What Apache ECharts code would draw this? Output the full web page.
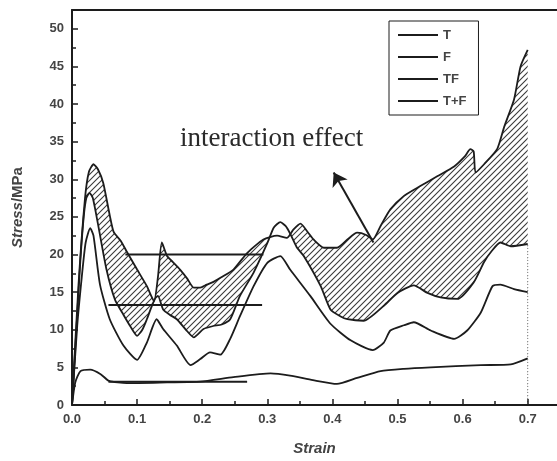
<!DOCTYPE html>
<html>
<head>
<meta charset="utf-8">
<script src="https://cdn.jsdelivr.net/npm/echarts@6/dist/echarts.min.js"></script>
<style>
  html, body { margin: 0; padding: 0; background: #fff; }
  #chart { width: 557px; height: 461px; }
</style>
</head>
<body>
<div id="chart"></div>
<script>
// curves (strain, stress in MPa)
const strainT = [0, 0.008, 0.015, 0.021, 0.028, 0.033, 0.043, 0.058, 0.079, 0.1, 0.115, 0.13, 0.14, 0.161, 0.182, 0.197, 0.212, 0.228, 0.243, 0.258, 0.279, 0.3, 0.32, 0.335, 0.366, 0.397, 0.428, 0.462, 0.479, 0.489, 0.51, 0.525, 0.551, 0.587, 0.607, 0.628, 0.646, 0.658, 0.679, 0.7];
const stressT = [0, 10.5, 17, 21.6, 23.5, 22.5, 16, 11.4, 7.9, 6.0, 8.3, 11.4, 10.1, 7.9, 5.3, 6.1, 7.0, 6.7, 8.8, 11.8, 15.8, 18.9, 19.8, 18, 14.5, 10.8, 8.6, 7.3, 8.3, 9.9, 10.6, 11.0, 9.9, 8.8, 9.9, 12.3, 15.8, 16, 15.4, 15.0];

const strainF = [0, 0.005, 0.013, 0.028, 0.044, 0.057, 0.084, 0.146, 0.197, 0.248, 0.305, 0.335, 0.37, 0.407, 0.438, 0.474, 0.51, 0.551, 0.628, 0.674, 0.7];
const stressF = [0, 3, 4.5, 4.7, 4.1, 3.2, 2.9, 3.0, 3.1, 3.7, 4.2, 3.9, 3.3, 2.8, 3.6, 4.5, 4.8, 5.0, 5.3, 5.4, 6.2];

const strainTF = [0, 0.01, 0.02, 0.026, 0.033, 0.04, 0.048, 0.058, 0.064, 0.075, 0.084, 0.1, 0.115, 0.126, 0.132, 0.138, 0.146, 0.155, 0.166, 0.177, 0.187, 0.197, 0.207, 0.218, 0.228, 0.248, 0.269, 0.294, 0.315, 0.33, 0.34, 0.351, 0.362, 0.371, 0.387, 0.407, 0.423, 0.438, 0.452, 0.462, 0.474, 0.489, 0.51, 0.535, 0.561, 0.587, 0.603, 0.612, 0.617, 0.62, 0.633, 0.653, 0.664, 0.679, 0.689, 0.7];
const stressTF = [0, 16, 27.5, 31, 32, 31.3, 29.5, 25.2, 23, 21.8, 20.4, 18, 15.8, 13.8, 17, 21.6, 19.8, 19, 18, 16.8, 15.6, 15.6, 16, 16.4, 16.9, 18, 20.2, 22, 22.5, 22.2, 23.3, 24.1, 23, 22, 20.9, 20.9, 22, 22.9, 22.6, 22, 23.8, 26, 27.8, 29.1, 30.4, 31.7, 33, 34, 33.7, 30.9, 32, 34, 37, 40.6, 45, 47.2];

const strainSum = [0, 0.008, 0.013, 0.018, 0.022, 0.027, 0.032, 0.04, 0.053, 0.066, 0.079, 0.09, 0.1, 0.108, 0.115, 0.122, 0.128, 0.132, 0.14, 0.15, 0.161, 0.175, 0.187, 0.202, 0.217, 0.23, 0.243, 0.258, 0.279, 0.3, 0.31, 0.32, 0.328, 0.335, 0.345, 0.356, 0.382, 0.397, 0.412, 0.423, 0.448, 0.479, 0.5, 0.525, 0.546, 0.566, 0.592, 0.617, 0.633, 0.645, 0.658, 0.674, 0.7];
const stressSum = [0, 12, 19.4, 25, 27.5, 28.2, 27.5, 24, 18, 14, 12, 10.4, 9.2, 10, 11.4, 13, 14.2, 14.5, 12.7, 12, 11.4, 10, 9.0, 10.1, 10.5, 10.7, 11.4, 14.5, 17.6, 21.5, 23.6, 24.3, 23.8, 22.8, 21, 19.8, 15.8, 12.7, 11.8, 11.4, 11.2, 13.2, 14.9, 15.9, 14.9, 14.3, 14.1, 16.3, 19, 20.5, 21.6, 21.1, 21.4];

// plateau stress levels: [start strain, end strain, stress]
const plateauTF = [0.082, 0.294, 20];
const plateauSum = [0.056, 0.292, 13.3];
const plateauF = [0.056, 0.269, 3.1];

// annotation arrow: tail and head (strain, stress)
const arrowTail = [0.463, 21.6];
const arrowHead = [0.402, 30.9];

const legendNames = ['T', 'F', 'TF', 'T+F'];

// x ticks (labelled) and half-step minor ticks
const xTicks = [0, 0.1, 0.2, 0.3, 0.4, 0.5, 0.6, 0.7];
const xMinorTicks = [0.05, 0.15, 0.25, 0.35, 0.45, 0.55, 0.65];

const ink = '#1c1c1c';
const textGray = '#444';
const fontFamily = '"Liberation Sans", Arial, sans-serif';
const smoothing = 0.2;

function toPairs(xs, ys) {
  return xs.map((x, i) => [x, ys[i]]);
}

function plateau(p) {
  return [[p[0], p[2]], [p[1], p[2]]];
}

function hatchPattern() {
  const c = document.createElement('canvas');
  c.width = 6;
  c.height = 6;
  const g = c.getContext('2d');
  g.fillStyle = '#fff';
  g.fillRect(0, 0, 6, 6);
  g.strokeStyle = '#3a3a3a';
  g.lineWidth = 1.1;
  g.beginPath();
  g.moveTo(0, 6); g.lineTo(6, 0);
  g.moveTo(-1, 1); g.lineTo(1, -1);
  g.moveTo(5, 7); g.lineTo(7, 5);
  g.stroke();
  return c;
}

function curve(name, data, width, smooth) {
  return {
    name: name,
    type: 'line',
    data: data,
    symbol: 'none',
    smooth: smooth || false,
    z: 3,
    lineStyle: { color: ink, width: width || 1.8 },
    itemStyle: { color: ink },
  };
}

const chart = echarts.init(document.getElementById('chart'), null, { renderer: 'canvas' });

const tfData = toPairs(strainTF, stressTF);
const sumData = toPairs(strainSum, stressSum);

const tfCurve = curve('TF', tfData, 1.8, smoothing);
tfCurve.markLine = {
  silent: true,
  symbol: ['none', 'arrow'],
  symbolSize: 13,
  lineStyle: { color: ink, width: 2, type: 'solid' },
  label: { show: false },
  data: [[{ coord: arrowTail }, { coord: arrowHead }]],
};

const xRange = { type: 'value', min: 0, max: 0.745, z: 5, splitLine: { show: false } };

chart.setOption({
  animation: false,
  backgroundColor: '#fff',
  grid: { left: 72, right: 0, top: 10, bottom: 55 },
  legend: {
    data: legendNames,
    orient: 'vertical',
    left: 389,
    top: 21,
    icon: 'rect',
    itemWidth: 40,
    itemHeight: 2,
    itemGap: 8,
    padding: [7, 12, 7, 9],
    borderColor: ink,
    borderWidth: 1,
    textStyle: { fontFamily: fontFamily, fontSize: 13, fontWeight: 'bold', lineHeight: 14, color: textGray },
  },
  xAxis: [
    Object.assign({}, xRange, {
      interval: 0.1,
      name: 'Strain',
      nameLocation: 'middle',
      nameGap: 36,
      nameTextStyle: { fontFamily: fontFamily, fontSize: 15, fontStyle: 'italic', fontWeight: 'bold', color: textGray },
      axisLine: { lineStyle: { color: ink, width: 2 } },
      axisTick: { inside: true, length: 6, customValues: xTicks, lineStyle: { color: ink, width: 1.5 } },
      axisLabel: {
        fontFamily: fontFamily, fontSize: 13, fontWeight: 'bold', color: textGray, margin: 8,
        customValues: xTicks,
        formatter: v => v.toFixed(1),
      },
    }),
    Object.assign({}, xRange, {
      position: 'top',
      axisLine: { show: true, lineStyle: { color: ink, width: 2 } },
      axisTick: { show: false },
      axisLabel: { show: false },
    }),
    Object.assign({}, xRange, {
      position: 'bottom',
      axisLine: { show: false },
      axisTick: { show: true, inside: true, length: 4, customValues: xMinorTicks, lineStyle: { color: ink, width: 1.5 } },
      axisLabel: { show: false },
    }),
  ],
  yAxis: {
    type: 'value',
    min: 0,
    max: 52.5,
    interval: 5,
    z: 5,
    name: '{it|Stress}/MPa',
    nameLocation: 'middle',
    nameGap: 47,
    nameTextStyle: {
      fontFamily: fontFamily, fontSize: 15, fontWeight: 'bold', color: textGray,
      rich: { it: { fontFamily: fontFamily, fontSize: 15, fontStyle: 'italic', fontWeight: 'bold', color: textGray } },
    },
    axisLine: { show: true, lineStyle: { color: ink, width: 2 } },
    axisTick: { inside: true, length: 6, lineStyle: { color: ink, width: 1.5 } },
    minorTick: { show: true, splitNumber: 2, length: 4, lineStyle: { color: ink, width: 1.5 } },
    axisLabel: { fontFamily: fontFamily, fontSize: 13, fontWeight: 'bold', color: textGray, margin: 8, showMaxLabel: false },
    splitLine: { show: false },
  },
  graphic: [
    {
      type: 'text',
      left: 180,
      top: 125,
      z: 10,
      style: { text: 'interaction effect', font: '27px "Liberation Serif", "Times New Roman", serif', fill: '#2a2a2a' },
    },
  ],
  series: [
    // hatched interaction area: TF filled, then T+F masked in white
    {
      name: 'TF hatch',
      type: 'line',
      data: tfData,
      symbol: 'none',
      smooth: smoothing,
      silent: true,
      z: 1,
      lineStyle: { width: 0, opacity: 0 },
      areaStyle: { color: { image: hatchPattern(), repeat: 'repeat' }, opacity: 1 },
    },
    {
      name: 'T+F mask',
      type: 'line',
      data: sumData,
      symbol: 'none',
      smooth: smoothing,
      silent: true,
      z: 2,
      lineStyle: { width: 0, opacity: 0 },
      areaStyle: { color: '#fff', opacity: 1 },
    },
    curve('T', toPairs(strainT, stressT), 1.8, smoothing),
    curve('F', toPairs(strainF, stressF), 1.8, smoothing),
    tfCurve,
    curve('T+F', sumData, 1.8, smoothing),
    curve('plateau TF', plateau(plateauTF), 2),
    curve('plateau T+F', plateau(plateauSum), 2),
    curve('plateau F', plateau(plateauF), 2),
    {
      name: 'end',
      type: 'line',
      data: [[0.7, 0], [0.7, stressSum[stressSum.length - 1]]],
      symbol: 'none',
      z: 3,
      lineStyle: { color: '#777', width: 1, type: [1, 2] },
    },
  ],
});
</script>
</body>
</html>
